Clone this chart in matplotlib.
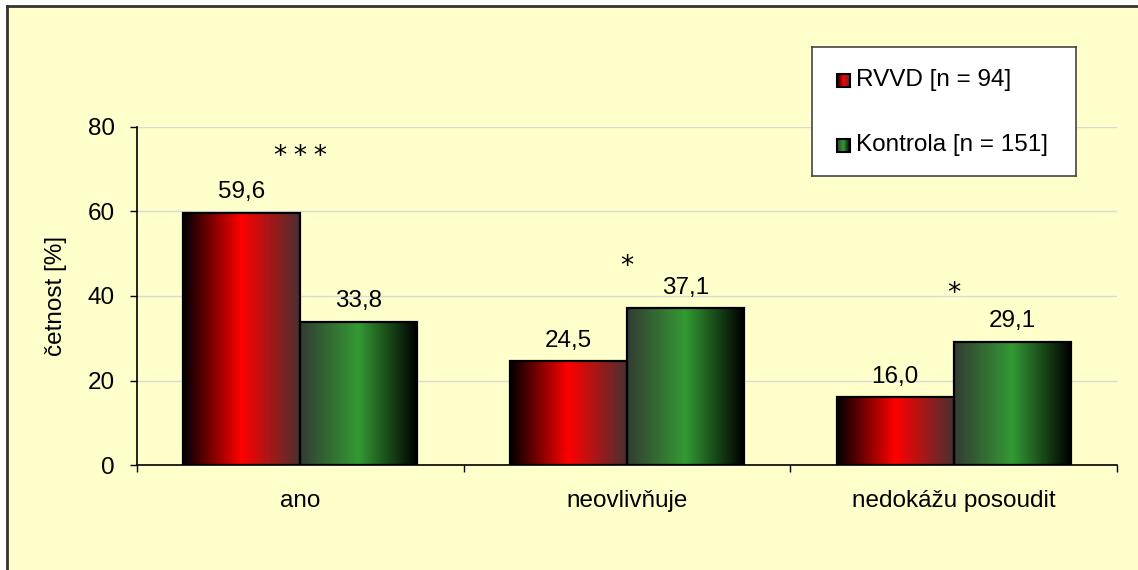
import matplotlib
matplotlib.use("Agg")
import matplotlib.pyplot as plt
import numpy as np
from matplotlib.colors import LinearSegmentedColormap
from matplotlib.patches import Rectangle
from matplotlib.lines import Line2D

# data
categories = ["ano", "neovlivňuje", "nedokážu posoudit"]
rvvd = [59.6, 24.5, 16.0]
kontrola = [33.8, 37.1, 29.1]
stars = ["*\u2005*\u2005*", "*", "*"]
series_labels = ["RVVD [n = 94]", "Kontrola [n = 151]"]
yticks = [0, 20, 40, 60, 80]

# star baselines (axis units)
star_y = [71.2, 45.2, 38.8]

plt.rcParams['font.family'] = ['Liberation Sans', 'DejaVu Sans']
FS = 17.5
BG = "#FFFFCC"

red_cmap = LinearSegmentedColormap.from_list(
    "redgrad", [(0, "#000000"), (0.5, "#ff0000"), (1, "#4a3030")])
green_cmap = LinearSegmentedColormap.from_list(
    "greengrad", [(0, "#343c34"), (0.5, "#339933"), (1, "#000000")])
grad = np.linspace(0, 1, 256).reshape(1, -1)

W, H = 1138, 570
fig = plt.figure(figsize=(W / 100, H / 100), dpi=100)
fig.patch.set_facecolor("white")

# chart area background with its frame
fig.patches.append(Rectangle((7 / W, 0), 1, 1 - 6 / H, transform=fig.transFigure,
                             facecolor=BG, edgecolor="none", zorder=-10))
fig.add_artist(Line2D([7 / W, 1], [1 - 6 / H, 1 - 6 / H], color="#333333", lw=2))
fig.add_artist(Line2D([7 / W, 7 / W], [0, 1 - 6 / H], color="#333333", lw=2))

ax = fig.add_axes([137 / W, 1 - 465 / H, 980 / W, 338 / H])
ax.set_facecolor(BG)
ax.patch.set_alpha(0)

x = np.arange(len(categories))
bw = 0.358


def grad_bar(xc, h, cmap):
    x0, x1 = xc - bw / 2, xc + bw / 2
    ax.imshow(grad, cmap=cmap, extent=[x0, x1, 0, h], aspect="auto",
              interpolation="bilinear", zorder=2)
    ax.add_patch(Rectangle((x0, 0), bw, h, facecolor="none",
                           edgecolor="black", lw=1.6, zorder=3))


for i in range(len(categories)):
    grad_bar(x[i] - bw / 2, rvvd[i], red_cmap)
    grad_bar(x[i] + bw / 2, kontrola[i], green_cmap)
    for xc, v in [(x[i] - bw / 2, rvvd[i]), (x[i] + bw / 2, kontrola[i])]:
        ax.annotate(f"{v:.1f}".replace(".", ","), (xc, v), xytext=(0, 7),
                    textcoords="offset points", ha="center", va="bottom",
                    fontsize=FS)
    ax.text(x[i], star_y[i], stars[i], ha="center", va="baseline", fontsize=19,
            family="DejaVu Sans")

ax.set_xlim(-0.5, len(categories) - 0.5)
ax.set_ylim(0, 80)
ax.set_yticks(yticks)
ax.yaxis.grid(True, color="#d9d9d9", lw=1)
ax.set_axisbelow(True)
ax.tick_params(axis="y", labelsize=FS, length=5, width=1, pad=11, direction="out")
ax.set_xticks(x)
ax.set_xticklabels(categories)
ax.set_xticks(np.arange(len(categories) + 1) - 0.5, minor=True)
ax.tick_params(axis="x", which="major", length=0, labelsize=FS, pad=18)
ax.tick_params(axis="x", which="minor", length=5, width=1, direction="out")
for s in ["top", "right"]:
    ax.spines[s].set_visible(False)
for s in ["left", "bottom"]:
    ax.spines[s].set_color("black")
    ax.spines[s].set_linewidth(1.2)
ax.set_ylabel("četnost [%]", fontsize=FS)
ax.yaxis.set_label_coords(-0.0714, 0.5)

# legend box, drawn in pixel units
lg = fig.add_axes([812 / W, 1 - 176 / H, 264 / W, 129 / H])
lg.set_facecolor("white")
for s in lg.spines.values():
    s.set_color("#444444")
    s.set_linewidth(1.2)
lg.set_xticks([])
lg.set_yticks([])
for cmap, label, yc in [(red_cmap, series_labels[0], 33), (green_cmap, series_labels[1], 98)]:
    lg.imshow(grad, cmap=cmap, extent=[25, 38, yc + 6.5, yc - 6.5], aspect="auto",
              interpolation="bilinear")
    lg.add_patch(Rectangle((25, yc - 6.5), 13, 13, facecolor="none",
                           edgecolor="black", lw=1.5))
    lg.text(44, yc, label, fontsize=FS, va="center", ha="left")
lg.set_xlim(0, 264)
lg.set_ylim(129, 0)

fig.savefig("out.png", dpi=100, facecolor=fig.get_facecolor())
